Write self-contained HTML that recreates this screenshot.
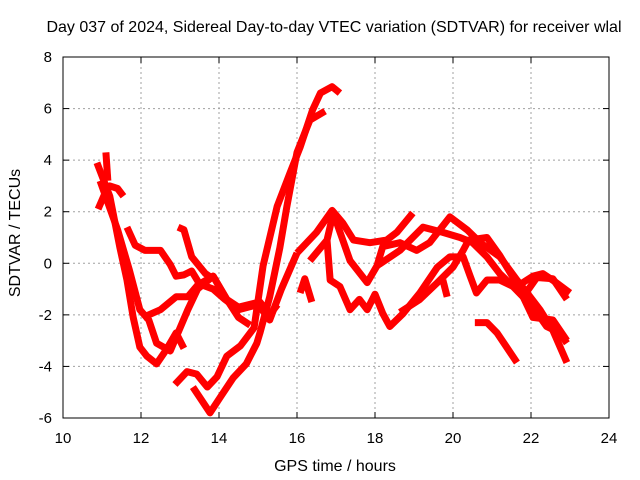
<!DOCTYPE html>
<html><head><meta charset="utf-8"><style>
body{margin:0;background:#fff}
svg{display:block;font-family:"Liberation Sans",sans-serif}
</style></head><body>
<svg id="chart" width="640" height="480" viewBox="0 0 640 480" xmlns="http://www.w3.org/2000/svg">
<rect width="640" height="480" fill="#fff"/>
<text x="334" y="32" font-size="16" text-anchor="middle">Day 037 of 2024, Sidereal Day-to-day VTEC variation (SDTVAR) for receiver wlal</text>
<g id="grid"></g>
<g id="series"></g>
<rect x="63" y="57" width="546" height="361" fill="none" stroke="#000" stroke-width="1"/>
<g id="ticks"></g>
<text x="335" y="471" font-size="16" text-anchor="middle">GPS time / hours</text>
<text transform="translate(20,233) rotate(-90)" font-size="16" text-anchor="middle">SDTVAR / TECUs</text>
</svg>
<script>
const xTicks=[10,12,14,16,18,20,22,24];
const yTicks=[-6,-4,-2,0,2,4,6,8];
const track1=[[10.87,3.9],[11.2,2.6],[11.46,0.6],[11.64,-0.65],[11.8,-2.1],[11.97,-3.25],[12.15,-3.6],[12.4,-3.9],[12.65,-3.35],[12.9,-2.7],[13.1,-3.3]];
const track2=[[10.95,3.2],[11.4,1.3],[11.7,-0.25],[11.97,-1.8],[12.2,-2.2],[12.4,-3.1],[12.75,-3.4],[13.2,-1.8],[13.45,-1.0],[13.85,-0.5],[14.2,-1.4],[14.5,-1.7],[15.05,-1.5],[15.3,-2.0],[15.5,-1.6]];
const track3=[[10.9,2.1],[11.1,2.8],[11.2,3.0],[11.4,2.9],[11.55,2.6]];
const track4=[[11.1,4.3],[11.15,3.2]];
const track5=[[11.64,1.4],[11.85,0.7],[12.1,0.5],[12.5,0.5],[12.75,-0.05],[12.9,-0.5],[13.1,-0.45],[13.3,-0.3],[13.5,-0.8],[13.85,-1.0],[14.15,-1.4],[14.5,-1.8],[15.0,-1.6],[15.3,-2.2],[15.6,-1.0],[16.0,0.4]];
const track6=[[12.95,1.4],[13.1,1.3],[13.3,0.25],[13.65,-0.4],[13.85,-0.6]];
const track7=[[12.05,-2.1],[12.5,-1.8],[12.9,-1.3],[13.2,-1.3],[13.45,-0.85],[13.85,-0.5],[14.2,-1.4],[14.5,-2.1],[14.8,-2.4]];
const track8=[[12.87,-4.7],[13.18,-4.2],[13.43,-4.3],[13.7,-4.8],[13.95,-4.4],[14.2,-3.6],[14.55,-3.2],[14.9,-2.5],[15.13,-0.1],[15.49,2.2],[15.82,3.5],[16.08,4.5],[16.4,5.95],[16.6,6.6],[16.9,6.85],[17.1,6.6]];
const track9=[[13.33,-4.8],[13.77,-5.8],[14.03,-5.2],[14.36,-4.45],[14.7,-3.9],[14.97,-3.1],[15.05,-2.7],[15.3,-1.3],[15.56,0.6],[15.74,2.2],[16.0,4.3],[16.33,5.55],[16.72,5.9]];
const track10=[[16.0,0.4],[16.5,1.2],[16.9,2.05],[17.18,1.55],[17.45,0.9],[17.87,0.8],[18.3,0.9],[18.56,1.2],[18.97,1.95]];
const track11=[[16.08,-1.15],[16.2,-0.6],[16.38,-1.5]];
const track12=[[16.33,0.1],[16.77,0.9],[16.93,1.95],[17.36,0.1],[17.8,-0.75],[18.05,-0.1],[18.2,0.65],[18.64,0.8],[19.07,0.5],[19.4,0.8],[19.92,1.8],[20.36,1.3],[20.7,0.8],[21.2,0.25],[21.64,-0.65],[21.9,-1.15],[22.23,-1.8],[22.56,-2.6],[22.92,-3.85]];
const track13=[[16.77,0.9],[16.85,-0.65],[17.1,-0.9],[17.36,-1.8],[17.6,-1.4],[17.8,-1.8],[18.0,-1.2],[18.2,-1.95],[18.38,-2.45],[18.72,-1.95],[19.15,-1.15],[19.6,-0.15],[19.92,0.25],[20.26,0.25],[20.44,-0.5],[20.6,-1.15],[20.87,-0.65],[21.2,-0.65],[21.54,-0.9],[21.8,-1.3],[22.15,-0.55],[22.56,-0.6],[22.92,-1.4]];
const track14=[[18.05,-0.1],[18.64,0.5],[19.23,1.4],[19.74,1.2],[20.18,1.0],[20.5,0.8],[20.87,0.25],[21.2,-0.4],[21.54,-0.9],[22.05,-1.7],[22.4,-2.45],[22.74,-2.7],[22.92,-3.1]];
const track15=[[18.64,-1.9],[19.15,-1.4],[19.6,-0.75],[20.0,-0.15],[20.26,0.5],[20.4,0.9],[20.87,1.0],[21.2,0.3],[21.64,-0.8],[22.05,-2.1],[22.56,-2.2],[22.92,-3.0]];
const track16=[[21.64,-0.9],[22.05,-0.5],[22.3,-0.4],[22.6,-0.7],[23.0,-1.15]];
const track17=[[20.56,-2.3],[20.87,-2.3],[21.13,-2.7],[21.64,-3.85]];
const track18=[[19.74,-0.65],[19.85,-1.3]];
const tracks=[track1,track2,track3,track4,track5,track6,track7,track8,track9,track10,track11,track12,track13,track14,track15,track16,track17,track18];

const X0=63,X1=609,Y0=418,Y1=57;
const xs=v=>X0+(v-10)/(24-10)*(X1-X0);
const ys=v=>Y0-(v+6)/(8+6)*(Y0-Y1);
const NS="http://www.w3.org/2000/svg";
const grid=document.getElementById('grid'),ticks=document.getElementById('ticks'),ser=document.getElementById('series');
function mk(tag,attrs,parent){const e=document.createElementNS(NS,tag);for(const k in attrs)e.setAttribute(k,attrs[k]);parent.appendChild(e);return e;}
xTicks.forEach(t=>{
  const x=xs(t);
  if(t>10&&t<24){const g=mk('line',{x1:x,x2:x,y1:Y1,y2:Y0,stroke:'#a0a0a0','stroke-dasharray':'2,3'},grid);
  
  }
  const a=mk('line',{x1:x,x2:x,y1:Y0,y2:Y0-6,stroke:'#000'},ticks);
  
  
  const b=mk('line',{x1:x,x2:x,y1:Y1,y2:Y1+6,stroke:'#000'},ticks);
  
  
  const l=mk('text',{x:x,y:443,'font-size':15,'text-anchor':'middle'},ticks);l.textContent=t;
  
  
});
yTicks.forEach(t=>{
  const y=ys(t);
  if(t>-6&&t<8){const g=mk('line',{x1:X0,x2:X1,y1:y,y2:y,stroke:'#a0a0a0','stroke-dasharray':'2,3'},grid);
  
  }
  const a=mk('line',{x1:X0,x2:X0+6,y1:y,y2:y,stroke:'#000'},ticks);
  
  
  const b=mk('line',{x1:X1,x2:X1-6,y1:y,y2:y,stroke:'#000'},ticks);
  
  
  const l=mk('text',{x:52,y:y+5,'font-size':15,'text-anchor':'end'},ticks);l.textContent=t;
  
  
});
tracks.forEach((tr,i)=>{
  const p=mk('polyline',{points:tr.map(d=>xs(d[0])+','+ys(d[1])).join(' '),fill:'none',stroke:'#ff0000','stroke-width':7,'stroke-linejoin':'round','stroke-linecap':'butt'},ser);
  
  
});
</script>
</body></html>
